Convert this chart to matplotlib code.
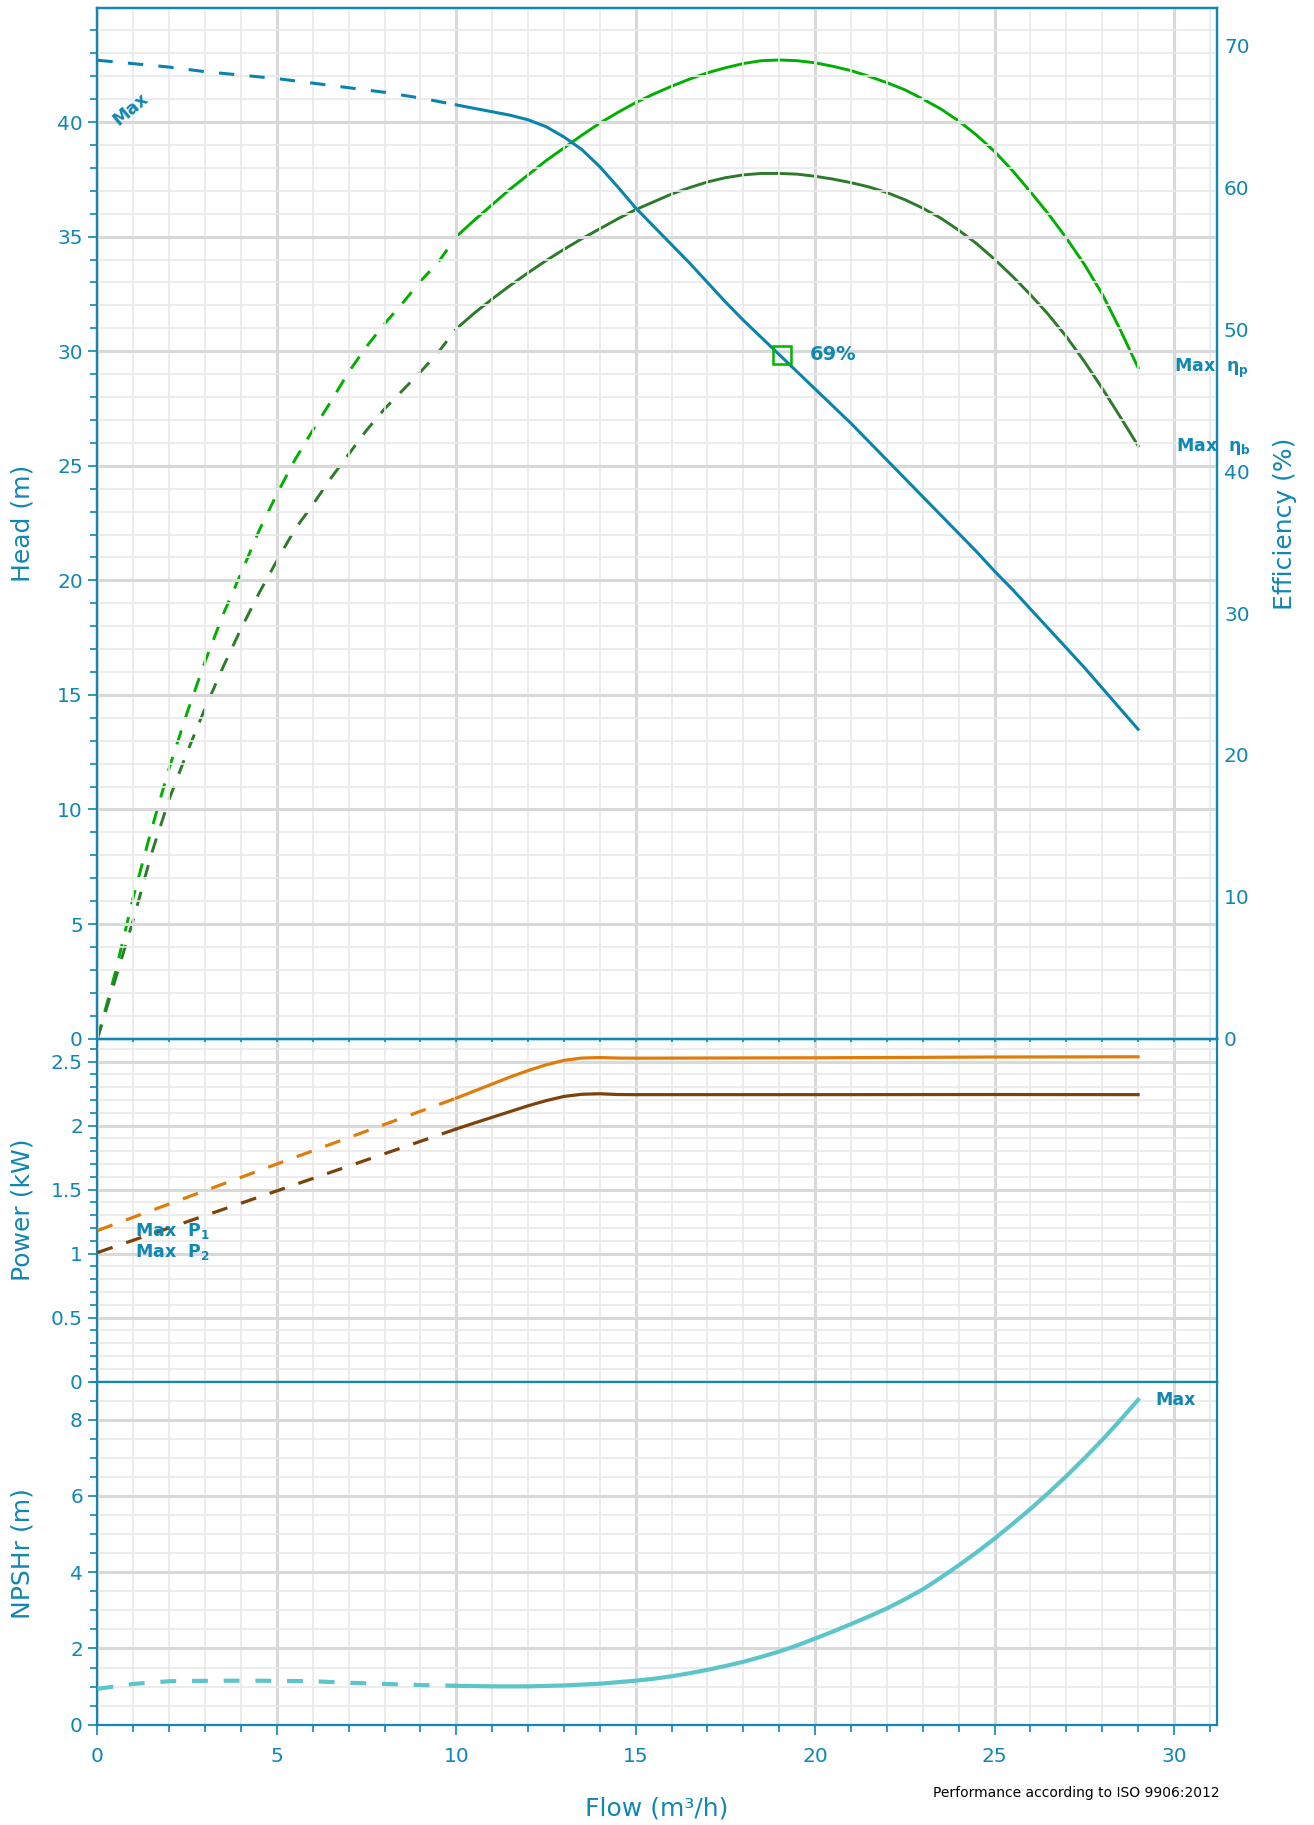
import matplotlib.pyplot as plt
from matplotlib.ticker import MultipleLocator, FormatStrFormatter

# head curve (m) vs flow (m3/h), dashed up to 10 m3/h
head_flow = [0, 1, 2, 3, 4, 5, 6, 7, 8, 9, 10, 10.5, 11, 11.5, 12, 12.5, 13,
             13.5, 14, 14.5, 15, 15.5, 16, 16.5, 17, 17.5, 18, 18.5, 19, 19.5,
             20, 20.5, 21, 21.5, 22, 22.5, 23, 23.5, 24, 24.5, 25, 25.5, 26,
             26.5, 27, 27.5, 28, 28.5, 29]
head = [42.7, 42.55, 42.4, 42.2, 42.05, 41.9, 41.7, 41.5, 41.3, 41.05, 40.75,
        40.6, 40.45, 40.3, 40.1, 39.8, 39.35, 38.8, 38.05, 37.17, 36.25, 35.45,
        34.65, 33.85, 33.0, 32.15, 31.35, 30.6, 29.85, 29.1, 28.35, 27.6,
        26.85, 26.05, 25.25, 24.45, 23.65, 22.85, 22.05, 21.25, 20.4, 19.6,
        18.75, 17.9, 17.05, 16.2, 15.3, 14.4, 13.5]

# efficiency (%) - pump (eta_p) and overall (eta_b), flow in 0.5 steps
eff_flow = [i / 2 for i in range(0, 59)]
eta_p = [0, 4.7, 10.0, 14.7, 19.1, 23.0, 26.6, 29.9, 32.8, 35.8, 38.4, 40.8,
         42.9, 44.9, 47.0, 48.8, 50.4, 51.85, 53.4, 54.75, 56.55,
         57.7, 58.8, 59.9, 60.9, 61.9, 62.8, 63.7, 64.55, 65.3, 66.0, 66.6,
         67.15, 67.65, 68.1, 68.45, 68.75, 68.95, 69.0, 68.95, 68.8, 68.55,
         68.25, 67.85, 67.4, 66.9, 66.25, 65.55, 64.7, 63.7, 62.55, 61.2,
         59.7, 58.15, 56.45, 54.6, 52.5, 50.0, 47.3]
eta_b = [0, 4.2, 8.4, 13.0, 16.9, 20.2, 23.3, 26.2, 28.9, 31.4, 33.7, 35.9,
         37.65, 39.5, 41.2, 42.9, 44.4, 45.7, 47.0, 48.4, 50.05,
         51.15, 52.15, 53.1, 54.0, 54.85, 55.65, 56.4, 57.1, 57.8, 58.45,
         59.0, 59.55, 60.0, 60.4, 60.7, 60.9, 61.0, 61.0, 60.95, 60.8, 60.6,
         60.35, 60.05, 59.65, 59.15, 58.55, 57.85, 57.0, 56.05, 54.95, 53.75,
         52.45, 51.05, 49.5, 47.75, 45.85, 43.85, 41.8]

# power (kW)
pow_flow = [0, 5, 10, 10.5, 11, 11.5, 12, 12.5, 13, 13.5, 14, 14.5, 15, 20,
            25, 29]
p1 = [1.18, 1.70, 2.215, 2.27, 2.325, 2.38, 2.43, 2.475, 2.51, 2.528, 2.532,
      2.528, 2.527, 2.53, 2.536, 2.538]
p2 = [1.008, 1.49, 1.974, 2.02, 2.065, 2.11, 2.155, 2.195, 2.228, 2.245,
      2.249, 2.243, 2.242, 2.242, 2.243, 2.242]

# npshr (m)
npsh_flow = [0, 1, 2, 3, 4, 5, 6, 7, 8, 9, 10, 11, 12, 13, 14, 15, 15.5, 16,
             16.5, 17, 17.5, 18, 18.5, 19, 19.5, 20, 20.5, 21, 21.5, 22, 22.5,
             23, 23.5, 24, 24.5, 25, 25.5, 26, 26.5, 27, 27.5, 28, 28.5, 29]
npsh = [0.94, 1.07, 1.14, 1.15, 1.155, 1.15, 1.14, 1.10, 1.07, 1.04, 1.02,
        1.005, 1.005, 1.03, 1.075, 1.155, 1.205, 1.27, 1.35, 1.44, 1.54, 1.65,
        1.78, 1.92, 2.08, 2.26, 2.445, 2.64, 2.84, 3.05, 3.29, 3.55, 3.855,
        4.18, 4.52, 4.88, 5.265, 5.66, 6.08, 6.52, 6.985, 7.47, 7.985, 8.52]

bep_flow, bep_head, bep_label = 19.09, 29.82, '69%'

TEAL = '#1187b1'
HEAD_C = '#0b84ad'
GREEN = '#00b000'
DGREEN = '#2b7b2b'
ORANGE = '#e07c0b'
BROWN = '#7b420a'
NPSH_C = '#5cc5c9'
SPLIT = 10


def curve(ax, x, y, color, lw, dash):
    # dashed below the split flow, solid above it
    xd = [a for a in x if a <= SPLIT]
    yd = y[:len(xd)]
    xs = [a for a in x if a >= SPLIT]
    ys = y[len(x) - len(xs):]
    ax.plot(xd, yd, color=color, lw=lw, ls=(0, dash),
            dash_capstyle='butt', dash_joinstyle='round', zorder=3)
    ax.plot(xs, ys, color=color, lw=lw, solid_joinstyle='round', zorder=3)


def style(ax, major, minor, last=False):
    ax.set_xlim(0, 31.2)
    ax.xaxis.set_major_locator(MultipleLocator(5))
    ax.xaxis.set_minor_locator(MultipleLocator(1))
    ax.yaxis.set_major_locator(MultipleLocator(major))
    ax.yaxis.set_minor_locator(MultipleLocator(minor))
    ax.yaxis.set_major_formatter(FormatStrFormatter('%g'))
    ax.set_axisbelow(True)
    ax.grid(which='major', color='#d9d9d9', lw=2.2)
    ax.grid(which='minor', color='#e9e9e9', lw=1.2)
    for s in ax.spines.values():
        s.set_color(TEAL)
        s.set_linewidth(1.6)
    ax.tick_params(axis='y', which='major', length=6.5, width=1.2,
                   colors=TEAL, labelsize=14.5, pad=4)
    ax.tick_params(axis='y', which='minor', length=5, width=1.2, colors=TEAL)
    if last:
        ax.tick_params(axis='x', which='major', length=7, width=1.2,
                       colors=TEAL, labelsize=14.5, pad=9)
        ax.tick_params(axis='x', which='minor', length=5, width=1.2, colors=TEAL)
        ax.xaxis.set_major_formatter(FormatStrFormatter('%g'))
    else:
        ax.tick_params(axis='x', which='both', length=2.5, width=1.2,
                       colors=TEAL, labelbottom=False)


def main():
    fig = plt.figure(figsize=(13.14, 18.25), dpi=100)
    L, W = 0.0742, 0.852
    ax_h = fig.add_axes([L, 0.4309, W, 0.5646])
    ax_p = fig.add_axes([L, 0.2430, W, 0.1879])
    ax_n = fig.add_axes([L, 0.05496, W, 0.1880])

    style(ax_h, 5, 1)
    style(ax_p, 0.5, 0.1)
    style(ax_n, 2, 0.5, last=True)
    ax_h.set_ylim(0, 44.97)
    ax_p.set_ylim(0, 2.68)
    ax_n.set_ylim(0, 9)

    # efficiency on a second axis
    ax_e = ax_h.twinx()
    ax_e.set_ylim(0, 72.65)
    ax_e.yaxis.set_major_locator(MultipleLocator(10))
    ax_e.tick_params(axis='y', length=0, colors=TEAL, labelsize=14.5, pad=5)
    for s in ax_e.spines.values():
        s.set_color(TEAL)
        s.set_linewidth(1.6)

    curve(ax_e, eff_flow, eta_p, GREEN, 2.1, (5, 4.5))
    curve(ax_e, eff_flow, eta_b, DGREEN, 2.1, (5, 4.5))
    curve(ax_h, head_flow, head, HEAD_C, 2.2, (5, 5))
    ax_h.set_zorder(ax_e.get_zorder() + 1)
    ax_h.patch.set_visible(False)

    ax_h.plot(bep_flow, bep_head, marker='s', ms=12.5, mfc='none',
              mec='#00b400', mew=1.8, zorder=5)
    bold = dict(color=TEAL, fontweight='bold', zorder=6, clip_on=False)
    ax_h.text(19.86, 29.85, bep_label, fontsize=14, ha='left', va='center', **bold)
    ax_h.text(0.93, 40.55, 'Max', fontsize=12.5, rotation=40, ha='center',
              va='center', **bold)
    ax_h.text(30.0, 29.27, r'Max  η$_\mathbf{p}$', fontsize=12.5, ha='left',
              va='center', **bold)
    ax_h.text(30.05, 25.85, r'Max  η$_\mathbf{b}$', fontsize=12.5, ha='left',
              va='center', **bold)

    curve(ax_p, pow_flow, p1, ORANGE, 2.3, (5, 4.5))
    curve(ax_p, pow_flow, p2, BROWN, 2.3, (5, 4.5))
    ax_p.text(1.04, 1.18, r'Max  P$_\mathbf{1}$', fontsize=12.5, ha='left',
              va='center', **bold)
    ax_p.text(1.04, 1.01, r'Max  P$_\mathbf{2}$', fontsize=12.5, ha='left',
              va='center', **bold)

    curve(ax_n, npsh_flow, npsh, NPSH_C, 3.0, (3.8, 3.8))
    ax_n.text(29.47, 8.52, 'Max', fontsize=12.5, ha='left', va='center', **bold)

    lab = dict(color=TEAL, fontsize=18, ha='center', va='center')
    fig.text(0.0175, 0.7132, 'Head (m)', rotation=90, **lab)
    fig.text(0.978, 0.7132, 'Efficiency (%)', rotation=90, **lab)
    fig.text(0.0175, 0.337, 'Power (kW)', rotation=90, **lab)
    fig.text(0.0175, 0.149, 'NPSHr (m)', rotation=90, **lab)
    fig.text(0.5, 0.0093, 'Flow (m³/h)', **lab)
    fig.text(0.819, 0.0175, 'Performance according to ISO 9906:2012',
             fontsize=10, color='black', ha='center', va='center')

    fig.savefig('out.png', dpi=100)


if __name__ == '__main__':
    main()
